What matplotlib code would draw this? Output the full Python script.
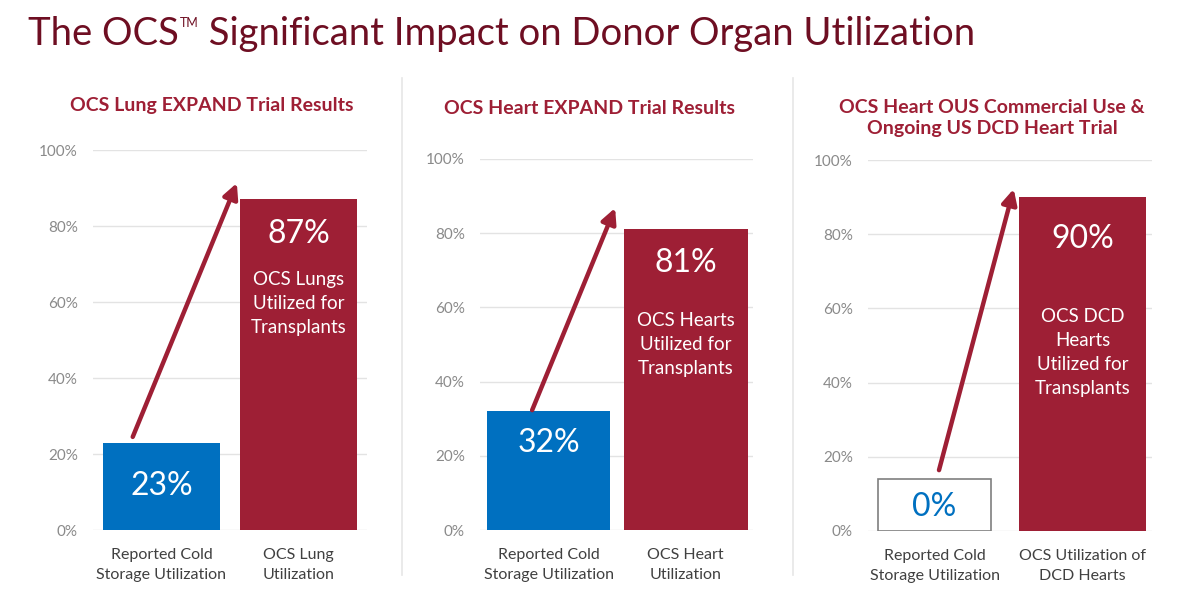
import matplotlib.pyplot as plt
from matplotlib.ticker import PercentFormatter

plt.rcParams['font.family'] = ['Lato', 'DejaVu Sans']

# data
panel_titles = ["OCS Lung EXPAND Trial Results",
                "OCS Heart EXPAND Trial Results",
                "OCS Heart OUS Commercial Use &\nOngoing US DCD Heart Trial"]
categories = [["Reported Cold\nStorage Utilization", "OCS Lung\nUtilization"],
              ["Reported Cold\nStorage Utilization", "OCS Heart\nUtilization"],
              ["Reported Cold\nStorage Utilization", "OCS Utilization of\nDCD Hearts"]]
bar_heights = [[23, 87], [32, 81], [14, 90]]   # third-panel box drawn at 14 but labelled 0%
value_labels = [["23%", "87%"], ["32%", "81%"], ["0%", "90%"]]
bar_notes = ["OCS Lungs\nUtilized for\nTransplants",
             "OCS Hearts\nUtilized for\nTransplants",
             "OCS DCD\nHearts\nUtilized for\nTransplants"]
yticks = [0, 20, 40, 60, 80, 100]

BLUE = "#0070c0"
RED = "#9e1f35"
DARK = "#6e0e22"
W, H = 1189, 590

fig = plt.figure(figsize=(W / 100, H / 100), dpi=100)

def px_axes(left, right, top, bottom):
    return fig.add_axes([left / W, 1 - bottom / H, (right - left) / W, (bottom - top) / H])

# pixel boxes of each plot area and per-panel styling
boxes = [(93, 367, 150, 530), (480, 753, 159, 530), (868, 1152, 160, 531)]
widths = [(0.854, 0.854), (0.9, 0.9), (0.76, 0.86)]
xlims = [(-0.5, 1.5), (-0.5, 1.49), (-0.45, 1.47)]
left_off = [-28, -17, -13]
right_off = [-20, -19, -27]
note_y = [59.5, 50, 48]
arrow_pts = [((-0.21, 24.5), (0.55, 91.3)),
             ((-0.12, 32.3), (0.485, 86.8)),
             ((0.03, 16.4), (0.535, 92.2))]
title_xy = [(212, 105), (590, 109), (992, 118)]

for i in range(3):
    ax = px_axes(*boxes[i])
    h = bar_heights[i]
    if i == 2:
        ax.bar(0, h[0], width=widths[i][0], color="white", edgecolor="#7f7f7f", linewidth=1.2, zorder=3)
        lcol = BLUE
    else:
        ax.bar(0, h[0], width=widths[i][0], color=BLUE, zorder=3)
        lcol = "white"
    ax.bar(1, h[1], width=widths[i][1], color=RED, zorder=3)

    ax.annotate(value_labels[i][0], (0, h[0]), xytext=(0, left_off[i]), textcoords="offset pixels",
                ha="center", va="top", fontsize=23, color=lcol, zorder=4)
    ax.annotate(value_labels[i][1], (1, h[1]), xytext=(0, right_off[i]), textcoords="offset pixels",
                ha="center", va="top", fontsize=23, color="white", zorder=4)
    ax.text(1, note_y[i], bar_notes[i], ha="center", va="center", fontsize=13.5,
            color="white", linespacing=1.5, zorder=4)

    (x0, y0), (x1, y1) = arrow_pts[i]
    ax.annotate("", xy=(x1, y1), xytext=(x0, y0),
                arrowprops=dict(arrowstyle="-|>,head_length=0.9,head_width=0.45",
                                color=RED, lw=3.2, shrinkA=0, shrinkB=0), zorder=5)

    ax.set_ylim(0, 100)
    ax.set_xlim(*xlims[i])
    ax.set_yticks(yticks)
    ax.yaxis.set_major_formatter(PercentFormatter(decimals=0))
    ax.set_xticks([0, 1])
    ax.set_xticklabels(categories[i], fontsize=11.5, color="#404040", linespacing=1.55)
    ax.tick_params(axis="y", length=0, labelsize=11, labelcolor="#8a8a8a", pad=11)
    ax.tick_params(axis="x", length=0, pad=13)
    ax.grid(axis="y", color="#e3e3e3", linewidth=1, zorder=0)
    for s in ax.spines.values():
        s.set_visible(False)

    fig.text(title_xy[i][0] / W, 1 - title_xy[i][1] / H, panel_titles[i], ha="center", va="center",
             fontsize=14, fontweight="bold", color=RED, linespacing=1.3)

# separators between panels
for x in (402, 793):
    fig.add_artist(plt.Line2D([x / W, x / W], [1 - 78 / H, 1 - 575 / H], color="#e6e6e6", lw=1.2))

# main title with small superscript TM
r = fig.canvas.get_renderer()
base_y = 1 - 45 / H
t1 = fig.text(28 / W, base_y, "The OCS", ha="left", va="baseline", fontsize=27.5, color=DARK)
x = t1.get_window_extent(r).x1 + 1
t2 = fig.text(x / W, base_y + 18 / H, "TM", ha="left", va="baseline", fontsize=9, color=DARK)
x = t2.get_window_extent(r).x1
fig.text(x / W, base_y, " Significant Impact on Donor Organ Utilization",
         ha="left", va="baseline", fontsize=27.5, color=DARK)

fig.savefig("out.png", dpi=100)
